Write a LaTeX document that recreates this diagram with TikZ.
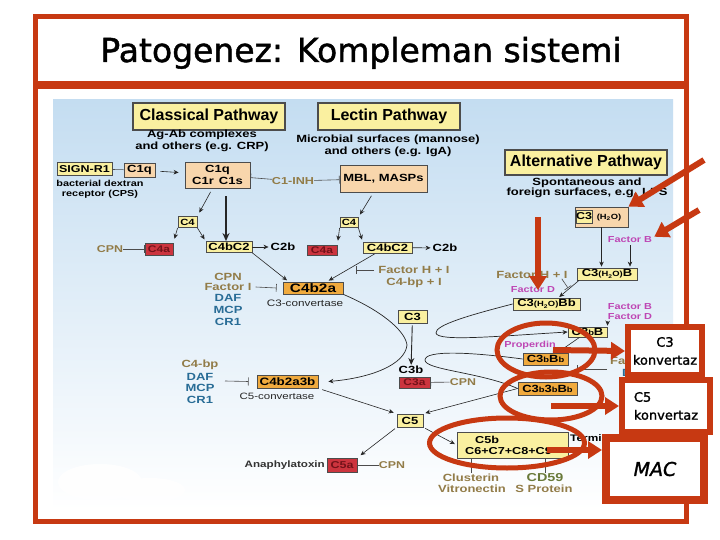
\documentclass[tikz,border=0pt]{standalone}
\usepackage{fontspec}
\setmainfont{Liberation Sans}[FakeStretch=1.25]
\newfontfamily\ttlf{Liberation Sans}
\newfontfamily\comicf{DejaVu Sans}[FakeBold=1.3]
\usetikzlibrary{arrows.meta,shapes.geometric}
\definecolor{redf}{RGB}{199,57,18}
\definecolor{yfill}{RGB}{250,240,160}
\definecolor{pfill}{RGB}{248,214,172}
\definecolor{ofill}{RGB}{240,170,62}
\definecolor{rfill}{RGB}{204,52,62}
\definecolor{rtext}{RGB}{115,18,25}
\definecolor{olivec}{RGB}{146,124,72}
\definecolor{tealc}{RGB}{40,108,150}
\definecolor{magc}{RGB}{190,70,180}
\definecolor{greenc}{RGB}{105,122,58}
\definecolor{bgtop}{RGB}{196,221,241}
\newcommand{\mysmb}{{\fontsize{7.5}{8}\selectfont b}}
\newcommand{\myhto}{{\fontsize{7.5}{8}\selectfont(H\textsubscript{2}O)}}
\tikzset{
  sz/.style 2 args={minimum width=#1pt, minimum height=#2pt},
  lab/.style={inner sep=0pt, align=center, font=\bfseries\fontsize{10.4}{11.5}\selectfont},
  bx/.style={draw=black!70, line width=0.8pt, inner sep=0pt, align=center, font=\bfseries\fontsize{10.4}{11}\selectfont},
  ybx/.style={bx, fill=yfill},
  pbx/.style={bx, fill=pfill},
  obx/.style={bx, fill=ofill},
  rbx/.style={bx, fill=rfill, text=rtext},
  ttl/.style={bx, fill=yfill, line width=1.1pt, font=\ttlf\bfseries\fontsize{16}{16}\selectfont},
  oli/.style={lab, text=olivec},
  tea/.style={lab, text=tealc},
  mag/.style={lab, text=magc, font=\bfseries\fontsize{8.7}{10}\selectfont},
  arr/.style={draw=black!85, line width=0.6pt, -{Stealth[length=5pt,width=4.5pt]}},
  inh/.style={draw=black!70, line width=0.6pt, -{Bar[width=8pt]}},
  redarr/.style={draw=redf, line width=6pt, -{Triangle[length=14pt,width=17pt]}},
  redell/.style={ellipse, draw=redf, line width=5pt, inner sep=0pt},
  anbox/.style={draw=redf, line width=6pt, fill=white, inner sep=0pt, font=\comicf\fontsize{13}{18}\selectfont, align=center},
}
\begin{document}
\begin{tikzpicture}[x=1pt,y=-1pt]
\useasboundingbox (0,0) rectangle (720,540);
\fill[white] (0,0) rectangle (720,540);
\shade[top color=bgtop, bottom color=white] (53,100) rectangle (673,510);
\fill[white, opacity=0.85] (100,482) ellipse [x radius=42, y radius=18];
\fill[white, opacity=0.85] (150,490) ellipse [x radius=35, y radius=12];

% ---------- Classical pathway ----------
\node[ttl, sz={152}{27}] (cp) at (209,116.5) {Classical Pathway};
\node[lab] (agab) at (202,141) {Ag-Ab complexes\\and others (e.g. CRP)};
\node[ybx, sz={55}{13}, font=\bfseries\fontsize{10}{10}\selectfont] (sign) at (84.5,169) {SIGN-R1};
\node[pbx, sz={31}{14}] (c1qs) at (139.5,170) {C1q};
\node[lab, font=\bfseries\fontsize{8.7}{10}\selectfont] (bact) at (100,189) {bacterial dextran\\receptor (CPS)};
\node[pbx, sz={65}{26}, font=\bfseries\fontsize{10.4}{12}\selectfont] (c1) at (217.5,175) {C1q\\C1r\enspace C1s};
\node[oli, font=\bfseries\fontsize{10.1}{11}\selectfont] (c1inh) at (293,181) {C1-INH};
\draw[line width=0.6pt, black!70] (sign) -- (c1qs);
\draw[arr, shorten <=5pt, shorten >=6pt] (c1qs) -- (c1);
\draw[inh] (c1inh) -- (c1);

\node[ybx, sz={19}{11}, font=\bfseries\fontsize{9}{9}\selectfont] (c4cl) at (187.5,222) {C4};
\node[rbx, sz={28}{12}, font=\bfseries\fontsize{9.6}{10}\selectfont] (c4acl) at (159,249) {C4a};
\node[oli, font=\bfseries\fontsize{9.9}{10}\selectfont] (cpn1) at (110,249) {CPN};
\node[ybx, sz={46}{11}] (c4bc2cl) at (229,247) {C4bC2};
\node[lab] (c2b1) at (283,247) {C2b};
\draw[arr, shorten <=4pt, shorten >=4pt] ([xshift=-5pt]c1.south) -- (c4cl.north east);
\draw[draw=black!85, line width=1.6pt, -{Stealth[length=8pt,width=7pt]}, shorten <=8pt] ([xshift=8.5pt]c1.south) -- ([xshift=-3pt]c4bc2cl.north);
\draw[arr, shorten >=4pt] (c4cl.south west) -- (c4acl.north east);
\draw[arr, shorten >=2pt] (c4cl.south east) -- (c4bc2cl.north west);
\draw[inh] (cpn1) -- (c4acl);
\draw[arr, shorten >=2pt] (c4bc2cl) -- (c2b1);

% ---------- Lectin pathway ----------
\node[ttl, sz={142}{27}] (lp) at (389,116.5) {Lectin Pathway};
\node[lab] (micro) at (388,146) {Microbial surfaces (mannose)\\and others (e.g. IgA)};
\node[pbx, sz={87}{27}] (mbl) at (383.5,178.5) {MBL, MASPs};
\draw[inh] (c1inh) -- (mbl);
\node[ybx, sz={18}{10}, font=\bfseries\fontsize{9}{9}\selectfont] (c4le) at (349,222.5) {C4};
\node[rbx, sz={30}{10}, font=\bfseries\fontsize{9.6}{10}\selectfont] (c4ale) at (322,250) {C4a};
\node[ybx, sz={49}{11}] (c4bc2le) at (387.5,247.5) {C4bC2};
\node[lab] (c2b2) at (445,248) {C2b};
\draw[arr, shorten <=4pt, shorten >=3pt] ([xshift=-10pt]mbl.south) -- (c4le.north east);
\draw[arr, shorten >=4pt] (c4le.south west) -- (c4ale.north east);
\draw[arr, shorten >=2pt] (c4le.south east) -- (c4bc2le.north west);
\draw[arr, shorten >=2pt] (c4bc2le) -- (c2b2);

% ---------- C3 convertase ----------
\node[obx, sz={60}{12}, font=\bfseries\fontsize{12.3}{12}\selectfont] (c4b2a) at (313,288) {C4b2a};
\node[lab, font=\mdseries\fontsize{9.4}{10}\selectfont, text=black!85] (c3cv) at (305,303) {C3-convertase};
\draw[arr, shorten >=2pt] (c4bc2cl.south east) -- ([xshift=6pt]c4b2a.north west);
\draw[arr, shorten <=1pt, shorten >=2pt] ([xshift=-12pt]c4bc2le.south) -- ([xshift=14pt]c4b2a.north);
\node[oli] (cpn2) at (228,277) {CPN};
\node[oli] (fI) at (228,287) {Factor I};
\node[tea] (daf1) at (228,298) {DAF};
\node[tea] (mcp1) at (228,310) {MCP};
\node[tea] (cr1a) at (228,322) {CR1};
\draw[inh] ([xshift=4pt]fI.east) -- ([xshift=-6pt]c4b2a.west);
\node[oli] (fhi1) at (414,270) {Factor H + I};
\node[oli] (fhi2) at (414,283) {C4-bp + I};
\coordinate (fhihit) at (356,270);
\draw[inh, shorten <=4pt] (fhi1.west) -- (fhihit);

% ---------- C3 ----------
\node[ybx, sz={29}{13}] (c3) at (412.5,316.5) {C3};
\node[lab] (c3b) at (411,370) {C3b};
\node[rbx, sz={31}{11}, font=\bfseries\fontsize{9.6}{10}\selectfont] (c3a) at (414.5,382.5) {C3a};
\node[oli, font=\bfseries\fontsize{9.9}{10}\selectfont] (cpn3) at (463,382) {CPN};
\draw[draw=black!85, line width=0.9pt, -{Stealth[length=7pt,width=6pt]}, shorten <=2pt, shorten >=1pt] (c3) -- (c3b);
\draw[inh] (cpn3) -- (c3a);

% ---------- C5 convertase ----------
\node[obx, sz={61}{13}, font=\bfseries\fontsize{10.7}{11}\selectfont] (c4b2a3b) at (287.5,381.5) {C4b2a3b};
\node[lab, font=\mdseries\fontsize{9.2}{10}\selectfont, text=black!85] (c5cv) at (277,396) {C5-convertase};
\node[oli] (c4bp) at (200,365) {C4-bp};
\node[tea] (daf2) at (200,377) {DAF};
\node[tea] (mcp2) at (200,388) {MCP};
\node[tea] (cr1b) at (200,400) {CR1};
\coordinate (inh2s) at (225,381);
\draw[inh] (inh2s) -- ([xshift=-8pt]c4b2a3b.west);
\draw[arr, line width=0.7pt] (c4b2a.south east) .. controls (380,310) and (405,330) .. (407,345) .. controls (405,365) and (370,378) .. ([xshift=10pt]c4b2a3b.east);

% ---------- C5 ----------
\node[ybx, sz={26}{13}] (c5) at (410,420.5) {C5};
\draw[arr, shorten <=4pt, shorten >=3pt] (c4b2a3b.south east) -- (c5.north west);
\node[rbx, sz={30}{14}, font=\bfseries\fontsize{10}{10}\selectfont] (c5a) at (342,465) {C5a};
\node[lab, anchor=east, font=\bfseries\fontsize{9.3}{10}\selectfont, text=black!80] (anaph) at (325,465) {Anaphylatoxin};
\node[oli, font=\bfseries\fontsize{9.9}{10}\selectfont] (cpn4) at (392,465) {CPN};
\draw[arr, shorten <=2pt, shorten >=4pt] (c5.south west) -- (c5a.north east);
\draw[inh] (cpn4) -- (c5a);
\node[ybx, sz={111}{26}] (c5b) at (512.5,445) {};
\node[lab, anchor=west, font=\bfseries\fontsize{10.1}{10}\selectfont] (c5bt) at (475,440) {C5b};
\node[lab, anchor=west, font=\bfseries\fontsize{10.1}{10}\selectfont] (c6t) at (465,451) {C6+C7+C8+C9};
\draw[arr, shorten <=2pt, shorten >=2pt] (c5.south east) -- (c5b.west);
\node[lab, anchor=west, font=\bfseries\fontsize{9.5}{10}\selectfont] (term) at (570,439) {Terminal pathway};
\node[oli] (clu) at (471,478) {Clusterin};
\node[oli] (vit) at (472,489) {Vitronectin};
\node[lab, text=greenc, font=\bfseries\fontsize{11.5}{12}\selectfont] (cd59) at (545,478) {CD59};
\node[oli] (sprot) at (544,489) {S Protein};
\draw[inh, shorten <=1pt] (clu.north) -- (clu.north |- c5b.south);
\draw[inh, shorten <=1pt] (cd59.north) -- (cd59.north |- c5b.south);

% ---------- Alternative pathway ----------
\node[ttl, sz={162}{25}] (ap) at (586,162.5) {Alternative Pathway};
\node[lab, font=\bfseries\fontsize{10.4}{10.3}\selectfont] (spont) at (587,188) {Spontaneous and\\foreign surfaces, e.g. LPS};
\node[pbx, sz={53}{20}] (c3w) at (601.5,217) {};
\node[ybx, sz={15}{13}, font=\bfseries\fontsize{10}{10}\selectfont] (c3in) at (584,216.5) {C3};
\node[lab] (h2o) at (609,217.5) {\myhto};
\node[mag] (fB) at (630,240) {Factor B};
\node[ybx, sz={60}{12}] (c3h2oB) at (607,274) {C3\myhto B};
\draw[arr, shorten >=1pt] (c3w.south) -- (c3w.south |- c3h2oB.north);
\draw[arr, shorten <=2pt, shorten >=1pt] (fB.south) -- (fB.south |- c3h2oB.north);
\node[oli] (fhi3) at (532,275) {Factor H + I};
\node[mag] (fD1) at (533,290) {Factor D};
\node[ybx, sz={67}{12}] (c3h2oBb) at (546.5,304) {C3\myhto Bb};
\draw[arr, shorten >=1pt] ([xshift=-28pt]c3h2oB.south) -- ([xshift=12pt]c3h2oBb.north);
\coordinate (fhi3hit) at (568,288);
\draw[inh] ([xshift=-6pt]fhi3.south east) -- (fhi3hit);
\node[mag] (fB2) at (630,307) {Factor B};
\node[mag] (fD2) at (630,317) {Factor D};
\node[ybx, sz={39}{10}] (c3bB) at (587.5,332) {C3\mysmb B};
\draw[arr, shorten <=1pt, shorten >=1pt] (fD2.south west) -- (c3bB.north east);
\node[mag] (prop) at (530,345) {Properdin};
\node[obx, sz={45}{12}] (c3bBb) at (545.5,359) {C3\mysmb B\mysmb};
\draw[arr, shorten >=1pt] ([xshift=-8pt]c3bB.south) -- ([xshift=12pt]c3bBb.north);
\node[obx, sz={59}{13}] (c3b3bBb) at (547.5,388.5) {C3\mysmb 3\mysmb B\mysmb};
\draw[arr, line width=0.7pt] (c3h2oBb.west) .. controls (470,315) and (435,325) .. (436,333) .. controls (437,342) and (500,336) .. (c3bB.west);
\draw[line width=0.7pt, black!85] (c3bBb.west) .. controls (470,352) and (425,350) .. (425,360) .. controls (425,370) and (480,372) .. (c3b3bBb.west);
\draw[arr, shorten >=2pt] (c3b3bBb.west) -- (c5.north east);
\node[oli, anchor=west] (fh4) at (610,361) {Fa};
\node[tea, anchor=west] (daf3) at (622,373) {D};
\coordinate (i4a) at (607,369);
\coordinate (i4b) at (577,369);
\draw[inh] (i4a) -- (i4b);

% ---------- frame ----------
\node[font=\comicf\fontsize{33}{33}\selectfont, anchor=base, inner sep=0pt] (title) at (361,62) {Patogenez: Kompleman sistemi};
\draw[redf, line width=5pt] (35,17) rectangle (686,521);
\draw[redf, line width=8pt] (35,85) -- (686,85);

% ---------- annotations ----------
\node[redell, sz={98}{54}] (e1) at (546,350) {};
\node[redell, sz={102}{48}] (e2) at (551,396) {};
\node[redell, sz={155}{50}] (e3) at (507,443) {};
\coordinate (v1) at (538,217);
\coordinate (v2) at (538,290);
\draw[redarr] (v1) -- (v2);
\coordinate (t1) at (704,160);
\coordinate (t2) at (699,210);
\draw[redarr] (t1) -- (c3w.north east);
\draw[redarr] (t2) -- ([xshift=2pt]fB.north east);
\node[anbox, sz={74}{48}] (c3k) at (665,351) {C3\\konvertaz};
\node[anbox, sz={88}{52}, align=left] (c5k) at (666,406) {C5\\konvertaz};
\node[anbox, sz={98}{62}, line width=8pt, font=\comicf\itshape\fontsize{19}{20}\selectfont] (mac) at (655,469) {MAC};
\draw[redarr] ([xshift=7pt]e1.center) -- (c3k.west);
\draw[redarr] (e2.center |- c5k.west) -- (c5k.west);
\coordinate (m1) at (547,450);
\draw[redarr] (m1) -- (m1 -| mac.west);
\end{tikzpicture}
\end{document}
